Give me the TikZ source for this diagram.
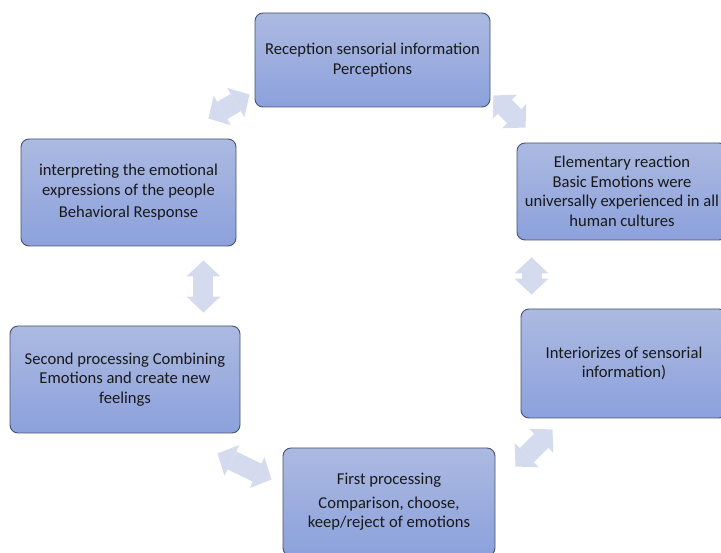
\documentclass[tikz,border=0pt]{standalone}
\usepackage{fontspec}
\setmainfont{Carlito}
\usetikzlibrary{arrows.meta}
\definecolor{boxtop}{RGB}{172,186,225}
\definecolor{boxbot}{RGB}{140,161,220}
\definecolor{boxline}{RGB}{72,82,112}
\definecolor{arrfill}{RGB}{212,219,238}
\begin{document}
\begin{tikzpicture}[x=1pt,y=-1pt,
  stagebox/.style={draw=boxline, line width=0.9pt, rounded corners=8pt,
    top color=boxtop, bottom color=boxbot, align=center, inner sep=0pt,
    font=\fontsize{16.6}{19.5}\selectfont, text=black!90},
  linkarrow/.style={draw=arrfill, line width=20pt,
    {Triangle[width=34pt,length=16pt,line width=0pt]}-{Triangle[width=34pt,length=16pt,line width=0pt]}}]
\useasboundingbox (0,0) rectangle (721,553);
\clip (0,0) rectangle (721,553);
% stages of the cycle
\node[stagebox, minimum width=235, minimum height=94] (reception) at (372.5,60)
  {Reception sensorial information\\Perceptions};
\node[stagebox, minimum width=210, minimum height=97] (elementary) at (622,191.5)
  {Elementary reaction\\Basic Emotions were\\universally experienced in all\\human cultures};
\node[stagebox, minimum width=206, minimum height=109] (interior) at (624,363.5)
  {Interiorizes of sensorial\\information)};
\node[stagebox, minimum width=212, minimum height=108] (firstproc) at (389,502)
  {First processing\\[4pt]Comparison, choose,\\keep/reject of emotions};
\node[stagebox, minimum width=230, minimum height=107] (secondproc) at (125,379.5)
  {Second processing Combining\\Emotions and create new\\feelings};
\node[stagebox, minimum width=215, minimum height=107] (interpret) at (128.5,192.5)
  {interpreting the emotional\\expressions of the people\\[3pt]Behavioral Response};
% double arrows between the stages
\draw[linkarrow] ([shift={(-28,-20)}]interpret.north east) -- ([shift={(-5,-13)}]reception.south west);
\draw[linkarrow] ([shift={(3,-12)}]reception.south east) -- ([shift={(9,-15)}]elementary.north west);
\draw[linkarrow] ([shift={(15,17)}]elementary.south west) -- ([shift={(11,-14)}]interior.north west);
\draw[linkarrow] ([shift={(20,19)}]firstproc.north east) -- ([shift={(32,11)}]interior.south west);
\draw[linkarrow] ([shift={(-23,20)}]secondproc.south east) -- ([shift={(-11,32)}]firstproc.north west);
\draw[linkarrow] ([shift={(-33,14)}]interpret.south east) -- ([shift={(-37,-13)}]secondproc.north east);
\end{tikzpicture}
\end{document}
